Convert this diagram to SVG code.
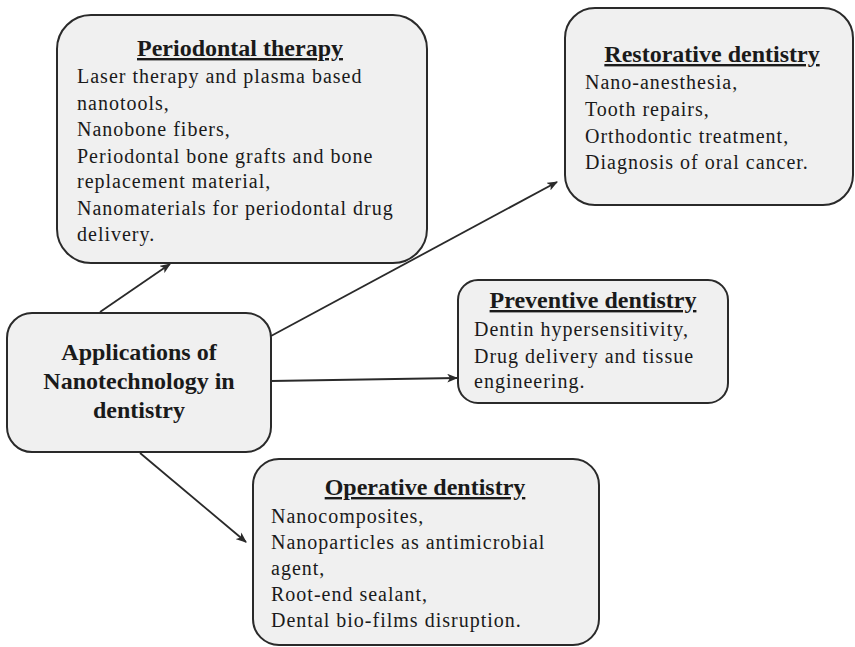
<svg xmlns="http://www.w3.org/2000/svg" width="855" height="647" viewBox="0 0 855 647">
  <defs>
    <style>
      .box { fill: #f0f0f0; stroke: #2a2a2a; stroke-width: 2; }
      .title { font-family: "Liberation Serif", "Times New Roman", serif; font-size: 24px; font-weight: bold; fill: #1a1a1a; text-anchor: middle; text-decoration: underline; }
      .main { font-family: "Liberation Serif", "Times New Roman", serif; font-size: 24px; font-weight: bold; fill: #1a1a1a; text-anchor: middle; }
      .body { font-family: "Liberation Serif", "Times New Roman", serif; font-size: 20px; fill: #1a1a1a; letter-spacing: 1px; }
      .conn { stroke: #2a2a2a; stroke-width: 1.8; fill: none; marker-end: url(#arrow); }
    </style>
    <marker id="arrow" viewBox="0 0 10 8" refX="9" refY="4" markerWidth="6" markerHeight="5" orient="auto" markerUnits="strokeWidth">
      <path d="M0,0 L10,4 L0,8 L2.5,4 z" fill="#2a2a2a"/>
    </marker>
  </defs>
  <rect width="855" height="647" fill="#ffffff"/>

  <g id="connectors">
    <line class="conn" x1="100" y1="312" x2="170" y2="264"/>
    <line class="conn" x1="271" y1="336" x2="557" y2="182"/>
    <line class="conn" x1="271" y1="381" x2="457" y2="378"/>
    <line class="conn" x1="140" y1="453" x2="246" y2="542"/>
  </g>

  <g id="periodontal">
    <rect class="box" x="57" y="15" width="370" height="248" rx="34" ry="34"/>
    <text class="title" x="240" y="56">Periodontal therapy</text>
    <text class="body" x="77" y="83">Laser therapy and plasma based</text>
    <text class="body" x="77" y="109.5">nanotools,</text>
    <text class="body" x="77" y="136">Nanobone fibers,</text>
    <text class="body" x="77" y="162.5">Periodontal bone grafts and bone</text>
    <text class="body" x="77" y="188">replacement material,</text>
    <text class="body" x="77" y="214.5">Nanomaterials for periodontal drug</text>
    <text class="body" x="77" y="241">delivery.</text>
  </g>

  <g id="restorative">
    <rect class="box" x="565" y="8" width="288" height="197" rx="30" ry="30"/>
    <text class="title" x="712" y="62">Restorative dentistry</text>
    <text class="body" x="585" y="89">Nano-anesthesia,</text>
    <text class="body" x="585" y="116">Tooth repairs,</text>
    <text class="body" x="585" y="143">Orthodontic treatment,</text>
    <text class="body" x="585" y="169">Diagnosis of oral cancer.</text>
  </g>

  <g id="center">
    <rect class="box" x="7" y="313" width="264" height="139" rx="25" ry="25"/>
    <text class="main" x="139" y="360">Applications of</text>
    <text class="main" x="139" y="389">Nanotechnology in</text>
    <text class="main" x="139" y="418">dentistry</text>
  </g>

  <g id="preventive">
    <rect class="box" x="458" y="280" width="270" height="123" rx="20" ry="20"/>
    <text class="title" x="593" y="308">Preventive dentistry</text>
    <text class="body" x="474" y="336">Dentin hypersensitivity,</text>
    <text class="body" x="474" y="363">Drug delivery and tissue</text>
    <text class="body" x="474" y="388">engineering.</text>
  </g>

  <g id="operative">
    <rect class="box" x="253" y="459" width="346" height="186" rx="26" ry="26"/>
    <text class="title" x="425" y="495">Operative dentistry</text>
    <text class="body" x="271" y="523">Nanocomposites,</text>
    <text class="body" x="271" y="549">Nanoparticles as antimicrobial</text>
    <text class="body" x="271" y="575">agent,</text>
    <text class="body" x="271" y="601">Root-end sealant,</text>
    <text class="body" x="271" y="627">Dental bio-films disruption.</text>
  </g>
</svg>
